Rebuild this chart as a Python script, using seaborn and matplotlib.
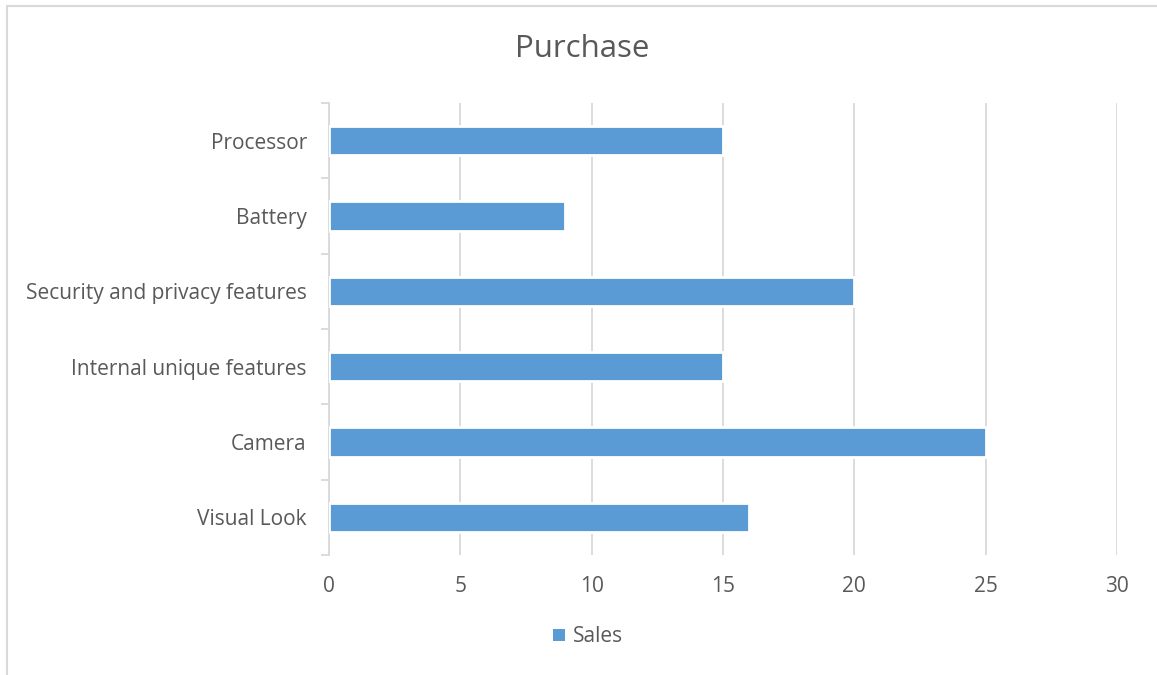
import matplotlib
matplotlib.use("Agg")
import matplotlib.pyplot as plt
import seaborn as sns
import pandas as pd
from matplotlib.lines import Line2D
from matplotlib.patches import Patch

features = ["Processor", "Battery", "Security and privacy features",
            "Internal unique features", "Camera", "Visual Look"]
sales = [15, 9, 20, 15, 25, 16]
x_ticks = [0, 5, 10, 15, 20, 25, 30]

BAR = "#5B9BD5"
GRID = "#D9D9D9"
TEXT = "#595959"

sns.set_theme(style="white")
plt.rcParams["font.family"] = ["Open Sans", "DejaVu Sans"]

df = pd.DataFrame({"Feature": features, "Sales": sales})

fig = plt.figure(figsize=(11.57, 6.75), dpi=100)
ax = fig.add_axes([329 / 1157, 1 - 555 / 675, (1117 - 329) / 1157, (555 - 103) / 675])

sns.barplot(data=df, x="Sales", y="Feature", orient="h", color=BAR,
            saturation=1, width=0.39, edgecolor="white", linewidth=2.0,
            ax=ax, zorder=3)

ax.set_xlim(0, 30)
ax.set_ylim(len(features) - 0.5, -0.5)
ax.set_xticks(x_ticks)
ax.set_xticklabels([str(t) for t in x_ticks])
ax.set_xlabel("")
ax.set_ylabel("")

# vertical gridlines behind the bars
ax.xaxis.grid(True, color=GRID, linewidth=1.3, zorder=0)
ax.yaxis.grid(False)
ax.set_axisbelow(True)

for side in ["top", "right", "bottom"]:
    ax.spines[side].set_visible(False)
ax.spines["left"].set_color(GRID)
ax.spines["left"].set_linewidth(1.3)

# category tick marks sit on the boundaries between categories
ax.set_yticks([i - 0.5 for i in range(len(features) + 1)], minor=True)
ax.tick_params(axis="y", which="minor", length=6, width=1.3, color=GRID, left=True)
ax.tick_params(axis="y", which="major", length=0, pad=16, labelsize=15, labelcolor=TEXT)
ax.tick_params(axis="x", which="major", length=0, pad=15, labelsize=15, labelcolor=TEXT)

fig.text(582 / 1157, 1 - 49 / 675, "Purchase", ha="center", va="center",
         fontsize=22.5, color=TEXT)

handles = [Patch(facecolor=BAR, edgecolor="none", label="Sales")]
fig.legend(handles=handles, loc="center", bbox_to_anchor=(588 / 1157, 1 - 637 / 675),
           frameon=False, fontsize=15, labelcolor=TEXT, handlelength=0.55,
           handleheight=0.55, handletextpad=0.4)

# chart frame along the top and left edges
fig.add_artist(Line2D([7 / 1157, 1.0], [1 - 6 / 675, 1 - 6 / 675],
                      transform=fig.transFigure, color=GRID, linewidth=1.5))
fig.add_artist(Line2D([7 / 1157, 7 / 1157], [0.0, 1 - 6 / 675],
                      transform=fig.transFigure, color=GRID, linewidth=1.5))

fig.savefig("out.png", dpi=100, facecolor="white")
